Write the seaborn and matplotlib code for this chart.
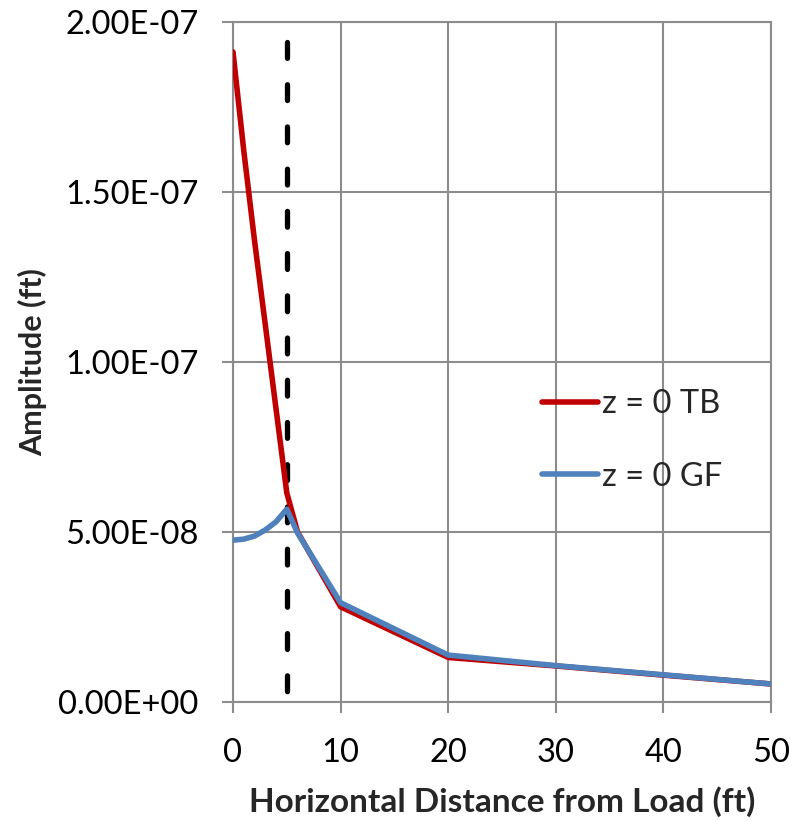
import numpy as np
import pandas as pd
import matplotlib
matplotlib.use("Agg")
import matplotlib.pyplot as plt
from matplotlib.ticker import FuncFormatter
import seaborn as sns

# ---- data ----
distance = [0, 1, 2, 3, 4, 5, 6, 10, 20, 30, 40, 50]
amp_tb = [1.912e-7, 1.622e-7, 1.357e-7, 1.110e-7, 8.62e-8, 6.15e-8, 5.00e-8,
          2.80e-8, 1.31e-8, 1.06e-8, 7.9e-9, 5.3e-9]
amp_gf = [4.76e-8, 4.79e-8, 4.88e-8, 5.06e-8, 5.30e-8, 5.67e-8, 4.97e-8,
          2.92e-8, 1.38e-8, 1.07e-8, 8.0e-9, 5.3e-9]
series_labels = ["z = 0 TB", "z = 0 GF"]
load_x = [5, 5]
load_y = [1.94e-7, 0.0]
x_ticks = [0, 10, 20, 30, 40, 50]
y_ticks = [0.0, 5e-8, 1e-7, 1.5e-7, 2e-7]

df = pd.DataFrame({
    "x": distance * 2,
    "amp": amp_tb + amp_gf,
    "series": [series_labels[0]] * len(distance) + [series_labels[1]] * len(distance),
})

sns.set_style("white")
plt.rcParams["font.family"] = ["Lato", "DejaVu Sans"]

fig = plt.figure(figsize=(7.9, 8.21), dpi=100)
ax = fig.add_axes([233 / 790, 1 - 702 / 821, (771 - 233) / 790, (702 - 22) / 821])

grid_c = "#8c8c8c"
ax.set_xlim(0, 50)
ax.set_ylim(0, 2e-7)
ax.set_xticks(x_ticks)
ax.set_yticks(y_ticks)
ax.grid(True, color=grid_c, linewidth=1.5)
ax.set_axisbelow(True)
for s in ax.spines.values():
    s.set_color(grid_c)
    s.set_linewidth(1.5)

# dashed load line
ax.plot(load_x, load_y, color="black", linewidth=3.8, dashes=(3, 5),
        dash_capstyle="round", zorder=3)

sns.lineplot(data=df, x="x", y="amp", hue="series",
             palette={series_labels[0]: "#C00000", series_labels[1]: "#4F81BD"},
             linewidth=4, ax=ax, zorder=4, sort=False)

ax.yaxis.set_major_formatter(FuncFormatter(lambda v, p: f"{v:.2E}"))
ax.tick_params(axis="both", which="major", direction="out", length=8, width=1.5,
               color=grid_c, labelsize=23.5, labelcolor="black",
               bottom=True, left=True)
ax.tick_params(axis="x", pad=18)
ax.tick_params(axis="y", pad=17)

ax.set_xlabel("Horizontal Distance from Load (ft)", fontsize=24, fontweight="bold", labelpad=13)
ax.set_ylabel("Amplitude (ft)", fontsize=22, fontweight="bold", labelpad=8)

leg = ax.legend(loc="upper left", bbox_to_anchor=(0.575, 0.46), frameon=False,
                fontsize=23.5, handlelength=1.7, handletextpad=0.12, labelspacing=1.3,
                borderpad=0, borderaxespad=0)
for line in leg.get_lines():
    line.set_linewidth(4)
    line.set_solid_capstyle("round")

fig.savefig("out.png", dpi=100)
